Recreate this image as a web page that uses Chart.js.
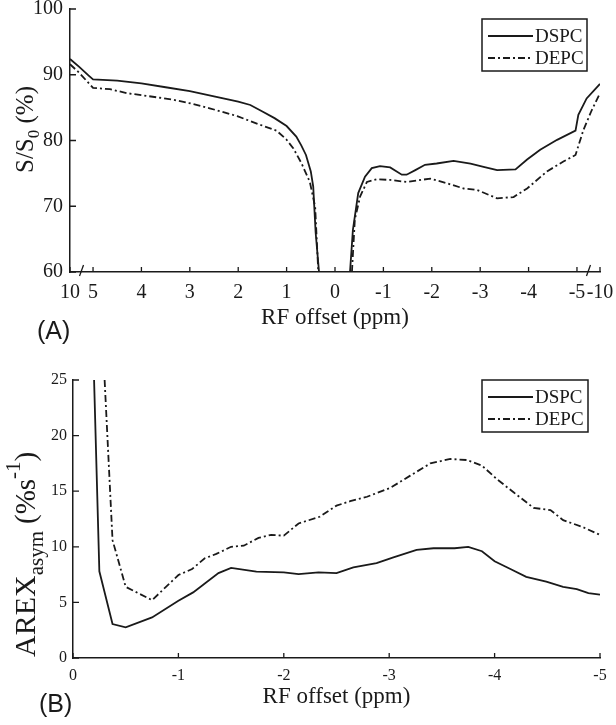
<!DOCTYPE html>
<html>
<head>
<meta charset="utf-8">
<script src="https://cdn.jsdelivr.net/npm/chart.js@4.4.1/dist/chart.umd.min.js"></script>
<style>
  body { margin: 0; background: #fff; }
  #wrap { position: relative; width: 616px; height: 725px; }
  canvas { position: absolute; left: 0; }
  #topChart { top: 0; }
  #botChart { top: 340px; }
</style>
</head>
<body>
<div id="wrap">
  <canvas id="topChart" width="616" height="350"></canvas>
  <canvas id="botChart" width="616" height="385"></canvas>
</div>
<script>
// ---- panel A: Z-spectra, S/S0 (%) ----
var topTickPpm = [10, 5, 4, 3, 2, 1, 0, -1, -2, -3, -4, -5, -10];

var dspcTopPpm = [10, 8, 6, 5, 4.5, 4, 3.5, 3, 2.5, 2, 1.75, 1.5, 1.25, 1, 0.8, 0.7, 0.6, 0.5, 0.45, 0.4, 0.33,
                  0,
                  -0.31, -0.37, -0.48, -0.62, -0.76, -0.93, -1.14, -1.38, -1.48, -1.66, -1.86, -2.1, -2.45, -2.8,
                  -3.07, -3.35, -3.73, -3.97, -4.24, -4.59, -4.97, -5.3, -7.1, -10];
var dspcTopS   = [92.4, 91.2, 89.9, 89.3, 89.1, 88.7, 88.1, 87.5, 86.7, 85.9, 85.4, 84.4, 83.4, 82.2, 80.6, 79.3, 77.8, 75.3, 73, 66, 60,
                  null,
                  60, 66.4, 72, 74.5, 75.8, 76.1, 75.9, 74.8, 74.8, 75.5, 76.3, 76.5, 76.9, 76.5,
                  76.0, 75.5, 75.6, 77.1, 78.6, 80.1, 81.5, 83.9, 86.4, 88.6];

var depcTopPpm = [10, 8, 5, 4.65, 4.3, 4, 3.62, 3.35, 3.02, 2.59, 2.02, 1.55, 1.21, 1.01, 0.86, 0.69, 0.52, 0.41, 0.345,
                  0,
                  -0.35, -0.41, -0.52, -0.66, -0.86, -1.14, -1.48, -1.97, -2.31, -2.66, -2.93, -3.35, -3.69, -3.97,
                  -4.38, -4.72, -4.97, -6.4, -8.2, -10];
var depcTopS   = [91.6, 90.3, 88.0, 87.8, 87.2, 86.9, 86.5, 86.2, 85.7, 84.9, 83.7, 82.4, 81.5, 80.2, 78.8, 76.5, 73.7, 69.9, 60,
                  null,
                  60, 68, 71.5, 73.7, 74.1, 74.0, 73.7, 74.2, 73.5, 72.7, 72.5, 71.2, 71.4, 72.7,
                  75.3, 76.8, 77.8, 81.6, 84.6, 87.2];

// ---- panel B: AREXasym (%s^-1) ----
var dspcBotPpm = [-0.2, -0.25, -0.375, -0.5, -0.75, -1.0, -1.14, -1.38, -1.5, -1.74, -2.0, -2.14, -2.33, -2.5, -2.66, -2.88,
                  -3.04, -3.26, -3.42, -3.62, -3.75, -3.88, -4.0, -4.15, -4.3, -4.49, -4.65, -4.78, -4.89, -5.0];
var dspcBotA   = [25, 7.8, 3.05, 2.75, 3.65, 5.15, 5.9, 7.64, 8.1, 7.76, 7.7, 7.55, 7.7, 7.64, 8.15, 8.54,
                  9.05, 9.72, 9.87, 9.87, 10.0, 9.6, 8.7, 8.0, 7.3, 6.86, 6.4, 6.2, 5.84, 5.7];

var depcBotPpm = [-0.3, -0.375, -0.5, -0.75, -1.0, -1.13, -1.25, -1.36, -1.5, -1.62, -1.76, -1.88, -2.0, -2.14, -2.34, -2.5,
                  -2.63, -2.79, -3.01, -3.2, -3.39, -3.58, -3.74, -3.88, -4.02, -4.18, -4.37, -4.53, -4.65, -4.84, -5.0];
var depcBotA   = [25, 10.6, 6.4, 5.2, 7.46, 8.0, 8.97, 9.36, 10.0, 10.1, 10.8, 11.07, 11.0, 12.1, 12.7, 13.7,
                  14.1, 14.5, 15.3, 16.4, 17.5, 17.9, 17.8, 17.3, 16.1, 14.9, 13.5, 13.3, 12.4, 11.76, 11.07];

// the top axis is broken beyond |5| ppm: 5..10 ppm is squeezed
var BREAK = 5, SQUEEZE = 0.0952;
function warp(p) {
  var a = Math.abs(p);
  if (a <= BREAK) return p;
  return Math.sign(p) * (BREAK + (a - BREAK) * SQUEEZE);
}

function pts(xs, ys, f) {
  return xs.map(function (x, i) { return { x: f ? f(x) : x, y: ys[i] }; });
}

var SERIF = '"Liberation Serif", "Times New Roman", serif';
var INK = '#1a1a1a';
var DASHDOT = [7, 3, 2, 3];

function richY(ctx, parts, x, y) {
  ctx.save();
  ctx.translate(x, y);
  ctx.rotate(-Math.PI / 2);
  ctx.textBaseline = 'alphabetic';
  ctx.textAlign = 'left';
  var cx = 0;
  parts.forEach(function (p) {
    ctx.font = p.f + 'px ' + SERIF;
    ctx.fillText(p.t, cx, p.dy || 0);
    cx += ctx.measureText(p.t).width + (p.gap || 0);
  });
  ctx.restore();
}

var decor = {
  id: 'decor',
  afterDraw: function (chart, args, o) {
    var ctx = chart.ctx, a = chart.chartArea, sx = chart.scales.x, sy = chart.scales.y;
    ctx.save();
    ctx.strokeStyle = INK;
    ctx.fillStyle = INK;
    ctx.lineWidth = 1.3;
    // inward tick marks
    ctx.beginPath();
    sx.ticks.forEach(function (t) {
      var px = sx.getPixelForValue(t.value);
      ctx.moveTo(px, a.bottom); ctx.lineTo(px, a.bottom - 5);
    });
    sy.ticks.forEach(function (t) {
      var py = sy.getPixelForValue(t.value);
      ctx.moveTo(a.left, py); ctx.lineTo(a.left + 6, py);
    });
    ctx.stroke();
    // axis break marks
    (o.breaks || []).forEach(function (p) {
      var px = sx.getPixelForValue(warp(p));
      ctx.beginPath();
      ctx.moveTo(px - 2, a.bottom + 4);
      ctx.lineTo(px + 2, a.bottom - 7);
      ctx.stroke();
    });
    // legend
    var L = o.legend;
    ctx.lineWidth = 1.5;
    ctx.strokeRect(L.x, L.y, L.w, L.h);
    ctx.font = '19px ' + SERIF;
    ctx.textBaseline = 'middle';
    chart.data.datasets.forEach(function (ds, i) {
      var y = L.y + 17 + i * 22;
      ctx.setLineDash(ds.borderDash || []);
      ctx.lineWidth = ds.borderWidth;
      ctx.beginPath();
      ctx.moveTo(L.x + 6, y); ctx.lineTo(L.x + 51, y);
      ctx.stroke();
      ctx.setLineDash([]);
      ctx.fillText(ds.label, L.x + 53, y + 1);
    });
    // y title
    richY(ctx, o.ytitle, o.ytX, o.ytY);
    // panel letter
    ctx.font = '25px "Liberation Sans", Arial, sans-serif';
    ctx.textBaseline = 'middle';
    ctx.fillText(o.panel, o.panelX, o.panelY);
    ctx.restore();
  }
};

function lineSet(label, data, dash) {
  return {
    label: label, data: data, borderColor: INK, borderWidth: 1.8, borderDash: dash,
    pointRadius: 0, tension: 0, fill: false
  };
}

function tickFont(size) { return { family: SERIF, size: size }; }

var topChart = new Chart(document.getElementById('topChart'), {
  type: 'line',
  data: {
    datasets: [
      lineSet('DSPC', pts(dspcTopPpm, dspcTopS, warp), []),
      lineSet('DEPC', pts(depcTopPpm, depcTopS, warp), DASHDOT)
    ]
  },
  options: {
    responsive: false, animation: false, devicePixelRatio: 1,
    layout: { padding: { left: 0, right: 16, top: 9, bottom: 0 } },
    plugins: {
      legend: { display: false }, tooltip: { enabled: false },
      decor: {
        breaks: [7.5, -7.5],
        legend: { x: 482, y: 19, w: 105, h: 52 },
        ytitle: [{ t: 'S/S', f: 25 }, { t: '0', f: 17, dy: 6 }, { t: ' (%)', f: 25 }],
        ytX: 33, ytY: 173,
        panel: '(A)', panelX: 37, panelY: 332
      }
    },
    scales: {
      x: {
        type: 'linear', reverse: true, min: warp(-10), max: warp(10),
        grid: { display: false, drawTicks: false },
        border: { display: true, color: INK, width: 1.5 },
        afterBuildTicks: function (s) {
          s.ticks = topTickPpm.map(function (p) { return { value: warp(p) }; });
        },
        ticks: {
          autoSkip: false, maxRotation: 0, padding: 9, color: INK, font: tickFont(20),
          callback: function (v, i) { return String(topTickPpm[i]); }
        },
        title: { display: true, text: 'RF offset (ppm)', color: INK, font: tickFont(23), padding: { top: 0, bottom: 18 } },
        afterFit: function (s) { s.height = 78; s.paddingLeft = 0; s.paddingRight = 0; }
      },
      y: {
        min: 60, max: 100,
        grid: { display: false, drawTicks: false },
        border: { display: true, color: INK, width: 1.5 },
        ticks: { stepSize: 10, padding: 7, color: INK, font: tickFont(20) },
        afterFit: function (s) { s.width = 70; s.paddingTop = 0; s.paddingBottom = 0; }
      }
    }
  },
  plugins: [decor]
});

var botChart = new Chart(document.getElementById('botChart'), {
  type: 'line',
  data: {
    datasets: [
      lineSet('DSPC', pts(dspcBotPpm, dspcBotA), []),
      lineSet('DEPC', pts(depcBotPpm, depcBotA), DASHDOT)
    ]
  },
  options: {
    responsive: false, animation: false, devicePixelRatio: 1,
    layout: { padding: { left: 0, right: 16, top: 40, bottom: 0 } },
    plugins: {
      legend: { display: false }, tooltip: { enabled: false },
      decor: {
        legend: { x: 482, y: 40, w: 106, h: 52 },
        ytitle: [
          { t: 'AREX', f: 30 }, { t: 'asym', f: 21, dy: 8, gap: 7 },
          { t: '(%s', f: 29 }, { t: '-1', f: 21, dy: -15 }, { t: ')', f: 29 }
        ],
        ytX: 35, ytY: 317,
        panel: '(B)', panelX: 39, panelY: 365
      }
    },
    scales: {
      x: {
        type: 'linear', reverse: true, min: -5, max: 0,
        grid: { display: false, drawTicks: false },
        border: { display: true, color: INK, width: 1.5 },
        ticks: { stepSize: 1, autoSkip: false, maxRotation: 0, padding: 8, color: INK, font: tickFont(16) },
        title: { display: true, text: 'RF offset (ppm)', color: INK, font: tickFont(23), padding: { top: 0, bottom: 14 } },
        afterFit: function (s) { s.height = 67; s.paddingLeft = 0; s.paddingRight = 0; }
      },
      y: {
        min: 0, max: 25,
        grid: { display: false, drawTicks: false },
        border: { display: true, color: INK, width: 1.5 },
        ticks: { stepSize: 5, padding: 6, color: INK, font: tickFont(16) },
        afterFit: function (s) { s.width = 73; s.paddingTop = 0; s.paddingBottom = 0; }
      }
    }
  },
  plugins: [decor]
});
</script>
</body>
</html>
